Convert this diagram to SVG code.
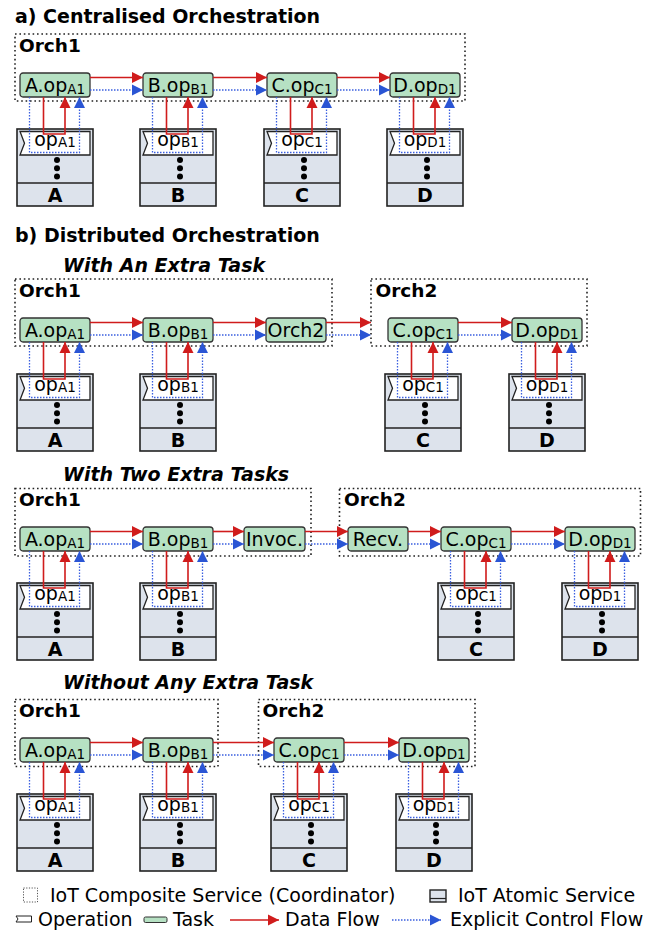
<svg xmlns="http://www.w3.org/2000/svg" width="661" height="930" viewBox="0 0 661 930">
<defs>
<style>
text{font-family:"DejaVu Sans","Liberation Sans",sans-serif;fill:#000}
.title{font-size:19px;font-weight:bold}
.subt{font-size:19px;font-weight:bold;font-style:italic}
.orch{fill:none;stroke:#222;stroke-width:1.6;stroke-dasharray:1.6 2.8}
.olab{font-size:18.5px;font-weight:bold}
.task{fill:#b6e1c3;stroke:#333;stroke-width:1.3}
.tl{font-size:19px;text-anchor:middle}
.s{font-size:13.5px}
.svc{fill:#dde3ec;stroke:#222;stroke-width:1.6}
.op{fill:#fff;stroke:#222;stroke-width:1.3}
.div{stroke:#222;stroke-width:1.6}
.lab{font-size:19px;font-weight:bold;text-anchor:middle}
.df{fill:none;stroke:#d01c1c;stroke-width:1.6;marker-end:url(#ar)}
.cf{fill:none;stroke:#3a5fe0;stroke-width:1.3;stroke-dasharray:1.5 1.5;marker-end:url(#ab)}
.leg{font-size:19px}
</style>
<marker id="ar" markerUnits="userSpaceOnUse" markerWidth="12" markerHeight="12" refX="11" refY="6" orient="auto"><path d="M0,0.5 L11,6 L0,11.5 Z" fill="#d01c1c"/></marker>
<marker id="ab" markerUnits="userSpaceOnUse" markerWidth="12" markerHeight="12" refX="11" refY="6" orient="auto"><path d="M0,0.5 L11,6 L0,11.5 Z" fill="#2a55d4"/></marker>
<g id="svcbase">
<rect x="-3" y="56" width="76" height="77" class="svc"/>
<polygon points="0,58.5 70,58.5 70,82 0,82 4.5,70.25" class="op"/>
<line x1="-3" y1="110" x2="73" y2="110" class="div"/>
<circle cx="37" cy="87" r="3"/><circle cx="37" cy="95.3" r="3"/><circle cx="37" cy="103.6" r="3"/>
</g>
<g id="unitconn">
<path d="M23.5,24 V61 H45 V24" class="df"/>
<path d="M9.5,24 V79.5 H59.5 V24" class="cf"/>
</g>
</defs>
<rect width="661" height="930" fill="#fff"/>

<!-- Titles -->
<text x="15" y="23" class="title">a) Centralised Orchestration</text>
<text x="15" y="242" class="title">b) Distributed Orchestration</text>
<text x="63" y="271.5" class="subt">With An Extra Task</text>
<text x="63" y="480.5" class="subt">With Two Extra Tasks</text>
<text x="63" y="688.5" class="subt">Without Any Extra Task</text>

<!-- Composite services -->
<g id="a-orch1"><rect x="15" y="34" width="450" height="67" class="orch"/><text x="19" y="52" class="olab">Orch1</text></g>
<g id="b1-orch1"><rect x="15" y="279" width="317" height="67" class="orch"/><text x="19" y="297" class="olab">Orch1</text></g>
<g id="b1-orch2"><rect x="371" y="279" width="216" height="67" class="orch"/><text x="375.5" y="297" class="olab">Orch2</text></g>
<g id="b2-orch1"><rect x="15" y="488.5" width="296" height="67.5" class="orch"/><text x="19" y="506" class="olab">Orch1</text></g>
<g id="b2-orch2"><rect x="339.5" y="488.5" width="301" height="67.5" class="orch"/><text x="344" y="506" class="olab">Orch2</text></g>
<g id="b3-orch1"><rect x="15" y="699.5" width="203" height="67" class="orch"/><text x="19" y="717" class="olab">Orch1</text></g>
<g id="b3-orch2"><rect x="258.5" y="699.5" width="216.5" height="67" class="orch"/><text x="262.5" y="717" class="olab">Orch2</text></g>

<!-- Section a -->
<g id="a-taskA" transform="translate(20,73)"><rect width="70" height="24" rx="3" class="task"/><text x="35" y="18.7" class="tl">A.op<tspan class="s" dy="1.8">A1</tspan></text></g>
<g id="a-taskB" transform="translate(143,73)"><rect width="70" height="24" rx="3" class="task"/><text x="35" y="18.7" class="tl">B.op<tspan class="s" dy="1.8">B1</tspan></text></g>
<g id="a-taskC" transform="translate(267,73)"><rect width="70" height="24" rx="3" class="task"/><text x="35" y="18.7" class="tl">C.op<tspan class="s" dy="1.8">C1</tspan></text></g>
<g id="a-taskD" transform="translate(390,73)"><rect width="70" height="24" rx="3" class="task"/><text x="35" y="18.7" class="tl">D.op<tspan class="s" dy="1.8">D1</tspan></text></g>
<g id="a-svcA" transform="translate(20,73)"><use href="#svcbase"/><text x="35" y="72.5" class="tl">op<tspan class="s" dy="1.8">A1</tspan></text><text x="35" y="129" class="lab">A</text></g>
<g id="a-svcB" transform="translate(143,73)"><use href="#svcbase"/><text x="35" y="72.5" class="tl">op<tspan class="s" dy="1.8">B1</tspan></text><text x="35" y="129" class="lab">B</text></g>
<g id="a-svcC" transform="translate(267,73)"><use href="#svcbase"/><text x="35" y="72.5" class="tl">op<tspan class="s" dy="1.8">C1</tspan></text><text x="35" y="129" class="lab">C</text></g>
<g id="a-svcD" transform="translate(390,73)"><use href="#svcbase"/><text x="35" y="72.5" class="tl">op<tspan class="s" dy="1.8">D1</tspan></text><text x="35" y="129" class="lab">D</text></g>

<!-- Section b1 -->
<g id="b1-taskA" transform="translate(20,318)"><rect width="70" height="24" rx="3" class="task"/><text x="35" y="18.7" class="tl">A.op<tspan class="s" dy="1.8">A1</tspan></text></g>
<g id="b1-taskB" transform="translate(143,318)"><rect width="70" height="24" rx="3" class="task"/><text x="35" y="18.7" class="tl">B.op<tspan class="s" dy="1.8">B1</tspan></text></g>
<g id="b1-taskOrch2" transform="translate(266,318)"><rect width="60" height="24" rx="3" class="task"/><text x="30" y="18.7" class="tl">Orch2</text></g>
<g id="b1-taskC" transform="translate(388,318)"><rect width="70" height="24" rx="3" class="task"/><text x="35" y="18.7" class="tl">C.op<tspan class="s" dy="1.8">C1</tspan></text></g>
<g id="b1-taskD" transform="translate(512,318)"><rect width="70" height="24" rx="3" class="task"/><text x="35" y="18.7" class="tl">D.op<tspan class="s" dy="1.8">D1</tspan></text></g>
<g id="b1-svcA" transform="translate(20,318)"><use href="#svcbase"/><text x="35" y="72.5" class="tl">op<tspan class="s" dy="1.8">A1</tspan></text><text x="35" y="129" class="lab">A</text></g>
<g id="b1-svcB" transform="translate(143,318)"><use href="#svcbase"/><text x="35" y="72.5" class="tl">op<tspan class="s" dy="1.8">B1</tspan></text><text x="35" y="129" class="lab">B</text></g>
<g id="b1-svcC" transform="translate(388,318)"><use href="#svcbase"/><text x="35" y="72.5" class="tl">op<tspan class="s" dy="1.8">C1</tspan></text><text x="35" y="129" class="lab">C</text></g>
<g id="b1-svcD" transform="translate(512,318)"><use href="#svcbase"/><text x="35" y="72.5" class="tl">op<tspan class="s" dy="1.8">D1</tspan></text><text x="35" y="129" class="lab">D</text></g>

<!-- Section b2 -->
<g id="b2-taskA" transform="translate(20,527)"><rect width="70" height="24" rx="3" class="task"/><text x="35" y="18.7" class="tl">A.op<tspan class="s" dy="1.8">A1</tspan></text></g>
<g id="b2-taskB" transform="translate(143,527)"><rect width="70" height="24" rx="3" class="task"/><text x="35" y="18.7" class="tl">B.op<tspan class="s" dy="1.8">B1</tspan></text></g>
<g id="b2-taskInvoc" transform="translate(244,527)"><rect width="61" height="24" rx="3" class="task"/><text x="30.5" y="18.7" class="tl">Invoc.</text></g>
<g id="b2-taskRecv" transform="translate(348,527)"><rect width="60" height="24" rx="3" class="task"/><text x="30" y="18.7" class="tl">Recv.</text></g>
<g id="b2-taskC" transform="translate(441,527)"><rect width="70" height="24" rx="3" class="task"/><text x="35" y="18.7" class="tl">C.op<tspan class="s" dy="1.8">C1</tspan></text></g>
<g id="b2-taskD" transform="translate(565,527)"><rect width="70" height="24" rx="3" class="task"/><text x="35" y="18.7" class="tl">D.op<tspan class="s" dy="1.8">D1</tspan></text></g>
<g id="b2-svcA" transform="translate(20,527)"><use href="#svcbase"/><text x="35" y="72.5" class="tl">op<tspan class="s" dy="1.8">A1</tspan></text><text x="35" y="129" class="lab">A</text></g>
<g id="b2-svcB" transform="translate(143,527)"><use href="#svcbase"/><text x="35" y="72.5" class="tl">op<tspan class="s" dy="1.8">B1</tspan></text><text x="35" y="129" class="lab">B</text></g>
<g id="b2-svcC" transform="translate(441,527)"><use href="#svcbase"/><text x="35" y="72.5" class="tl">op<tspan class="s" dy="1.8">C1</tspan></text><text x="35" y="129" class="lab">C</text></g>
<g id="b2-svcD" transform="translate(565,527)"><use href="#svcbase"/><text x="35" y="72.5" class="tl">op<tspan class="s" dy="1.8">D1</tspan></text><text x="35" y="129" class="lab">D</text></g>

<!-- Section b3 -->
<g id="b3-taskA" transform="translate(20,738)"><rect width="70" height="24" rx="3" class="task"/><text x="35" y="18.7" class="tl">A.op<tspan class="s" dy="1.8">A1</tspan></text></g>
<g id="b3-taskB" transform="translate(143,738)"><rect width="70" height="24" rx="3" class="task"/><text x="35" y="18.7" class="tl">B.op<tspan class="s" dy="1.8">B1</tspan></text></g>
<g id="b3-taskC" transform="translate(274,738)"><rect width="70" height="24" rx="3" class="task"/><text x="35" y="18.7" class="tl">C.op<tspan class="s" dy="1.8">C1</tspan></text></g>
<g id="b3-taskD" transform="translate(399,738)"><rect width="70" height="24" rx="3" class="task"/><text x="35" y="18.7" class="tl">D.op<tspan class="s" dy="1.8">D1</tspan></text></g>
<g id="b3-svcA" transform="translate(20,738)"><use href="#svcbase"/><text x="35" y="72.5" class="tl">op<tspan class="s" dy="1.8">A1</tspan></text><text x="35" y="129" class="lab">A</text></g>
<g id="b3-svcB" transform="translate(143,738)"><use href="#svcbase"/><text x="35" y="72.5" class="tl">op<tspan class="s" dy="1.8">B1</tspan></text><text x="35" y="129" class="lab">B</text></g>
<g id="b3-svcC" transform="translate(274,738)"><use href="#svcbase"/><text x="35" y="72.5" class="tl">op<tspan class="s" dy="1.8">C1</tspan></text><text x="35" y="129" class="lab">C</text></g>
<g id="b3-svcD" transform="translate(399,738)"><use href="#svcbase"/><text x="35" y="72.5" class="tl">op<tspan class="s" dy="1.8">D1</tspan></text><text x="35" y="129" class="lab">D</text></g>

<!-- Connectors -->
<g id="connectors">
<use href="#unitconn" x="20" y="73"/><use href="#unitconn" x="143" y="73"/><use href="#unitconn" x="267" y="73"/><use href="#unitconn" x="390" y="73"/>
<use href="#unitconn" x="20" y="318"/><use href="#unitconn" x="143" y="318"/><use href="#unitconn" x="388" y="318"/><use href="#unitconn" x="512" y="318"/>
<use href="#unitconn" x="20" y="527"/><use href="#unitconn" x="143" y="527"/><use href="#unitconn" x="441" y="527"/><use href="#unitconn" x="565" y="527"/>
<use href="#unitconn" x="20" y="738"/><use href="#unitconn" x="143" y="738"/><use href="#unitconn" x="274" y="738"/><use href="#unitconn" x="399" y="738"/>
<path d="M90,77.5 H143" class="df"/><path d="M90,90 H143" class="cf"/>
<path d="M213,77.5 H267" class="df"/><path d="M213,90 H267" class="cf"/>
<path d="M337,77.5 H390" class="df"/><path d="M337,90 H390" class="cf"/>
<path d="M90,322.5 H143" class="df"/><path d="M90,335 H143" class="cf"/>
<path d="M213,322.5 H266" class="df"/><path d="M213,335 H266" class="cf"/>
<path d="M326,322.5 H371" class="df"/><path d="M326,335 H371" class="cf"/>
<path d="M458,322.5 H512" class="df"/><path d="M458,335 H512" class="cf"/>
<path d="M90,531.5 H143" class="df"/><path d="M90,544 H143" class="cf"/>
<path d="M213,531.5 H244" class="df"/><path d="M213,544 H244" class="cf"/>
<path d="M305,531.5 H348" class="df"/><path d="M305,544 H348" class="cf"/>
<path d="M408,531.5 H441" class="df"/><path d="M408,544 H441" class="cf"/>
<path d="M511,531.5 H565" class="df"/><path d="M511,544 H565" class="cf"/>
<path d="M90,742.5 H143" class="df"/><path d="M90,755 H143" class="cf"/>
<path d="M213,742.5 H274" class="df"/><path d="M213,755 H274" class="cf"/>
<path d="M344,742.5 H399" class="df"/><path d="M344,755 H399" class="cf"/>
</g>

<!-- Legend -->
<g id="legend">
<rect x="23.5" y="888" width="14" height="14" fill="none" stroke="#555" stroke-width="1" stroke-dasharray="1.2 1.5"/>
<text x="50" y="901.5" class="leg">IoT Composite Service (Coordinator)</text>
<rect x="430" y="890" width="16" height="12" fill="#dde3ec" stroke="#222" stroke-width="1.4"/>
<line x1="430" y1="898.5" x2="446" y2="898.5" stroke="#222" stroke-width="1.2"/>
<text x="458" y="901.5" class="leg">IoT Atomic Service</text>
<polygon points="16,916 31.5,916 31.5,922 16,922 18,919" fill="#fff" stroke="#222" stroke-width="1"/>
<text x="38" y="925.5" class="leg">Operation</text>
<rect x="144" y="917" width="23" height="5.5" rx="1.5" fill="#b6e1c3" stroke="#333" stroke-width="1"/>
<text x="173" y="925.5" class="leg">Task</text>
<path d="M230,920 H279" class="df"/>
<text x="285" y="925.5" class="leg">Data Flow</text>
<path d="M392,920 H441" class="cf"/>
<text x="450" y="925.5" class="leg">Explicit Control Flow</text>
</g>
</svg>
